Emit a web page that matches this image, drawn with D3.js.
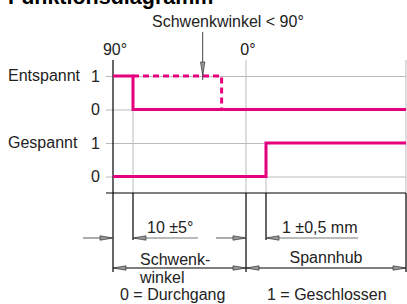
<!DOCTYPE html>
<html lang="de">
<head>
    <meta charset="UTF-8">
    <title>funktionsdiagramm</title>
    <script src="https://cdn.jsdelivr.net/npm/d3@7"></script>
    <style>
        body { margin: 0; background: #fff; }
        text { font-family: "Liberation Sans", Arial, sans-serif; font-size: 16px; fill: #222; }
    </style>
</head>
<body>
    <svg class="chart"></svg>
</body>
<script>
    // Signale und Pegel
    var signals = ['Entspannt', 'Gespannt'];
    var levels = [1, 0];

    // Hubweg in Schritten: 90°, +10°, 0°, +1 mm, Ende
    var marks = [0, 1, 6.65, 7.65, 14.65];
    var topLabels = [{ t: 0, label: '90°' }, { t: 6.65, label: '0°' }];

    // Verlauf der Signale [schritt, pegel]
    var entspannt = [[0, 1], [1, 1], [1, 0], [14.65, 0]];
    var entspanntMax = [[1, 1], [5.43, 1], [5.43, 0]];
    var gespannt = [[0, 0], [7.65, 0], [7.65, 1], [14.65, 1]];

    var pink = '#e5007d';
    var width = 407, height = 304;

    var svg = d3.select('.chart')
        .attr('width', width)
        .attr('height', height);

    // Skalen
    var x = d3.scaleLinear().domain([0, 14.65]).range([113, 406]);
    var row = d3.scalePoint().domain(signals).range([76, 143]);
    var lev = d3.scaleLinear().domain([1, 0]).range([0, 33.5]);
    function y(sig, v) { return row(sig) + lev(v); }

    var axisY = 193;

    // Titel (oben angeschnitten)
    svg.append('text')
        .attr('x', 8).attr('y', 3.5)
        .style('font-weight', 'bold')
        .style('font-size', '21.5px')
        .style('fill', '#000')
        .text('Funktionsdiagramm');

    // waagerechte Gitterlinien + Pegelbeschriftung je Signal
    signals.forEach(function (sig) {
        var s = d3.scaleLinear().domain([1, 0]).range([y(sig, 1), y(sig, 0)]);
        var g = svg.append('g')
            .attr('transform', 'translate(106,0)')
            .call(d3.axisLeft(s).tickValues(levels).tickFormat(d3.format('d'))
                .tickSize(-300).tickPadding(6));
        g.select('.domain').remove();
        g.selectAll('line').attr('stroke', '#bbb');
        g.selectAll('text').style('font-size', '16px').style('fill', '#222')
            .style('font-family', '"Liberation Sans", Arial, sans-serif');

        svg.append('text')
            .attr('x', 8).attr('y', y(sig, 1)).attr('dy', '.33em')
            .text(sig);
    });

    // senkrechte Gitterlinien
    var gridTop = [60, 76, 60, 143, 60];
    svg.selectAll('.vgrid')
        .data(marks.slice(1))
        .enter().append('line')
        .attr('x1', function (d) { return x(d); })
        .attr('x2', function (d) { return x(d); })
        .attr('y1', function (d, i) { return gridTop[i + 1]; })
        .attr('y2', axisY)
        .attr('stroke', '#bbb');

    // Achsen
    svg.append('line')
        .attr('x1', 106).attr('x2', x(14.65))
        .attr('y1', axisY).attr('y2', axisY)
        .attr('stroke', '#000').attr('stroke-width', 1.2);
    svg.append('line')
        .attr('x1', x(0)).attr('x2', x(0))
        .attr('y1', 60).attr('y2', 272)
        .attr('stroke', '#000').attr('stroke-width', 1.2);

    // Maßhilfslinien unterhalb der Achse
    var extEnd = [272, 240, 272, 240, 272];
    svg.selectAll('.ext')
        .data(marks.slice(1))
        .enter().append('line')
        .attr('x1', function (d) { return x(d); })
        .attr('x2', function (d) { return x(d); })
        .attr('y1', axisY)
        .attr('y2', function (d, i) { return extEnd[i + 1]; })
        .attr('stroke', '#000').attr('stroke-width', 1.2);

    // Winkelbeschriftung oben
    svg.selectAll('.top')
        .data(topLabels)
        .enter().append('text')
        .attr('x', function (d) { return x(d.t) + 2; })
        .attr('y', 55)
        .attr('text-anchor', 'middle')
        .text(function (d) { return d.label; });

    // Signalverläufe
    var line = function (sig) {
        return d3.line()
            .x(function (d) { return x(d[0]); })
            .y(function (d) { return y(sig, d[1]); });
    };
    svg.append('path')
        .attr('d', line('Entspannt')(entspanntMax))
        .attr('fill', 'none').attr('stroke', pink)
        .attr('stroke-width', 3).attr('stroke-dasharray', '6,4');
    svg.append('path')
        .attr('d', line('Entspannt')(entspannt))
        .attr('fill', 'none').attr('stroke', pink).attr('stroke-width', 3);
    svg.append('path')
        .attr('d', line('Gespannt')(gespannt))
        .attr('fill', 'none').attr('stroke', pink).attr('stroke-width', 3);

    // Pfeilspitze: Spitze bei (px,py), dir = Richtung
    function arrow(px, py, dir) {
        var L = 13, w = 2.2, pts;
        if (dir === 'r') pts = [[px, py], [px - L, py - w], [px - L, py + w]];
        if (dir === 'l') pts = [[px, py], [px + L, py - w], [px + L, py + w]];
        if (dir === 'd') pts = [[px, py], [px - w, py - L], [px + w, py - L]];
        svg.append('path')
            .attr('d', d3.line()(pts) + 'Z')
            .attr('fill', '#999').attr('stroke', '#333').attr('stroke-width', 0.7);
    }

    // Hinweis Schwenkwinkel < 90°
    svg.append('text').attr('x', 152).attr('y', 27).text('Schwenkwinkel < 90°');
    svg.append('line')
        .attr('x1', 202.7).attr('x2', 202.7).attr('y1', 32).attr('y2', 80)
        .attr('stroke', '#444').attr('stroke-width', 1);
    arrow(202.7, 75, 'd');

    // Maßlinien 10 ±5° und 1 ±0,5 mm
    var dimY = 238;
    [[x(marks[0]), x(marks[1]), 198], [x(marks[2]), x(marks[3]), 358]].forEach(function (m) {
        svg.append('line').attr('x1', m[0] - 30).attr('x2', m[0])
            .attr('y1', dimY).attr('y2', dimY).attr('stroke', '#777').attr('stroke-width', 1.2);
        svg.append('line').attr('x1', m[1]).attr('x2', m[2])
            .attr('y1', dimY).attr('y2', dimY).attr('stroke', '#777').attr('stroke-width', 1.2);
        arrow(m[0], dimY, 'r');
        arrow(m[1], dimY, 'l');
    });
    svg.append('text').attr('x', 147).attr('y', 233).text('10 ±5°');
    svg.append('text').attr('x', 282).attr('y', 233).text('1 ±0,5 mm');

    // Maßlinie Schwenkwinkel / Spannhub
    var dim2 = 268;
    svg.append('line').attr('x1', x(marks[0])).attr('x2', x(marks[4]))
        .attr('y1', dim2).attr('y2', dim2).attr('stroke', '#000').attr('stroke-width', 1.2);
    arrow(x(marks[0]), dim2, 'l');
    arrow(x(marks[2]), dim2, 'r');
    arrow(x(marks[2]), dim2, 'l');
    arrow(x(marks[4]), dim2, 'r');

    svg.append('text').attr('x', 140).attr('y', 265).text('Schwenk-');
    svg.append('text').attr('x', 140).attr('y', 283).text('winkel');
    svg.append('text').attr('x', (x(marks[2]) + x(marks[4])) / 2).attr('y', 263)
        .attr('text-anchor', 'middle').text('Spannhub');

    // Legende
    svg.append('text').attr('x', 120).attr('y', 300).text('0 = Durchgang');
    svg.append('text').attr('x', 267).attr('y', 300).text('1 = Geschlossen');
</script>
</html>
